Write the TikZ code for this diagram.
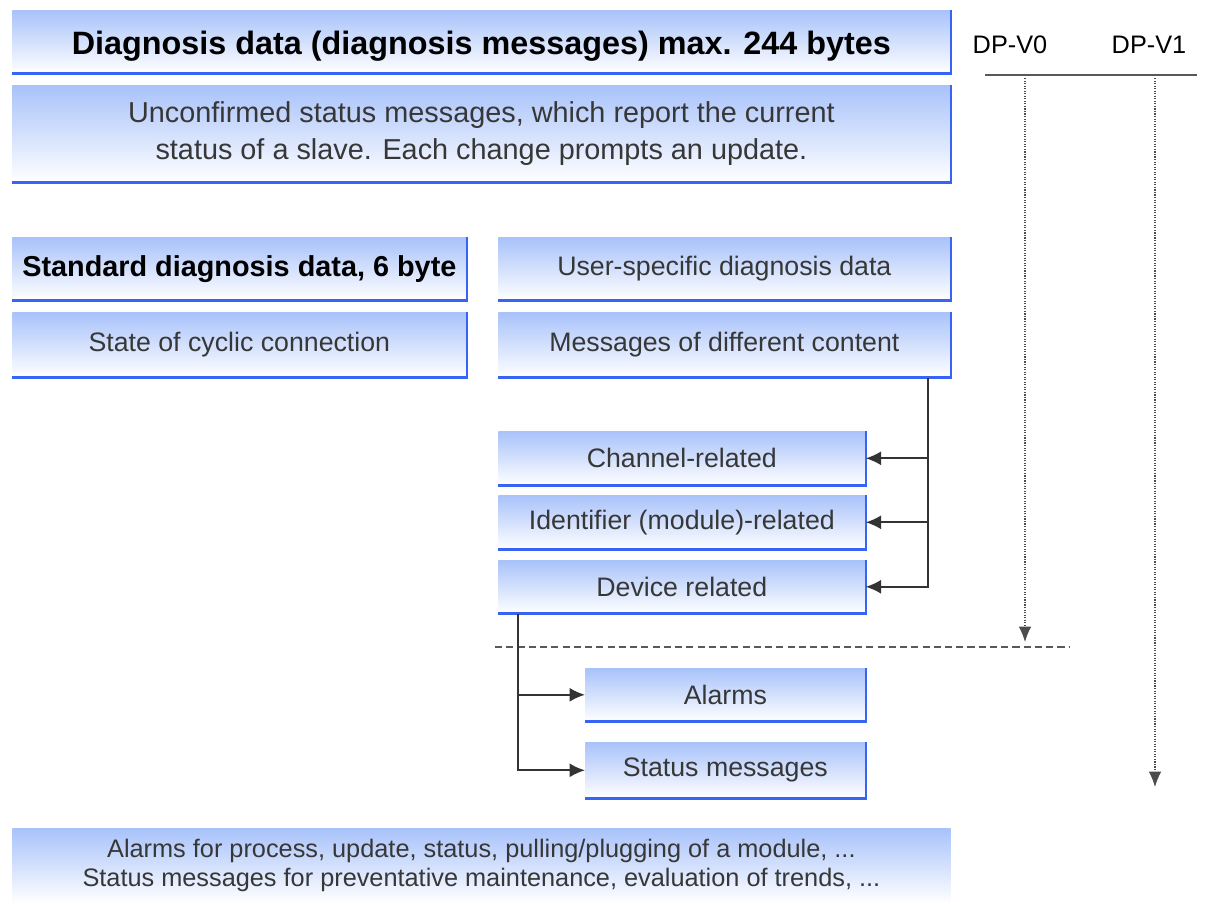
\documentclass[tikz,border=0pt]{standalone}
\usepackage{fontspec}
\setmainfont{Liberation Sans}
\usetikzlibrary{arrows.meta}
\definecolor{boxblue}{RGB}{168,194,250}
\definecolor{edgeblue}{RGB}{55,100,245}
\definecolor{txtgray}{RGB}{55,55,55}
\begin{document}
\begin{tikzpicture}[
        x=0.025cm, y=-0.025cm,
        box/.style={rectangle, anchor=north west, inner sep=0pt, align=center, top color=boxblue, bottom color=white, text=txtgray, font=\fontsize{19}{23}\selectfont},
        head/.style={font=\bfseries\fontsize{23}{27}\selectfont, text=black},
        edge/.style={draw=edgeblue, line width=1.6pt},
        arrow/.style={-{Latex[length=11pt, width=10pt]}, line width=1.4pt, draw=black!80},
        dotarrow/.style={-{Latex[length=11pt, width=9pt]}, densely dotted, line width=0.8pt, draw=black!70}
    ]
        \useasboundingbox (0,0) rectangle (1214,903);

        % Upper boxes
        \node[box, head, minimum width=23.45cm, minimum height=1.575cm, text height=22pt, text depth=4pt] (title) at (12,10) {Diagnosis data (diagnosis messages) max. 244 bytes};
        \node[box, minimum width=23.45cm, minimum height=2.425cm, font=\fontsize{20.5}{26}\selectfont] (info) at (12,85) {Unconfirmed status messages, which report the current\\status of a slave. Each change prompts an update.};

        % Standard part
        \node[box, head, minimum width=11.35cm, minimum height=1.575cm, font=\bfseries\fontsize{20.5}{24}\selectfont] (standard) at (12,237) {Standard diagnosis data, 6 byte};
        \node[box, minimum width=11.35cm, minimum height=1.625cm] (cyclic) at (12,312) {State of cyclic connection};

        % User-specific part
        \node[box, minimum width=11.3cm, minimum height=1.575cm] (user) at (498,237) {User-specific diagnosis data};
        \node[box, minimum width=11.3cm, minimum height=1.625cm] (content) at (498,312) {Messages of different content};
        \node[box, minimum width=9.175cm, minimum height=1.35cm] (channel) at (498,431) {Channel-related};
        \node[box, minimum width=9.175cm, minimum height=1.35cm] (ident) at (498,495) {Identifier (module)-related};
        \node[box, minimum width=9.175cm, minimum height=1.325cm] (device) at (498,560) {Device related};
        \node[box, minimum width=7cm, minimum height=1.325cm] (alarms) at (585,668) {Alarms};
        \node[box, minimum width=7cm, minimum height=1.4cm] (status) at (585,742) {Status messages};

        % Bottom note
        \node[box, minimum width=23.45cm, minimum height=1.875cm, font=\fontsize{18}{20.5}\selectfont] (note) at (12,828) {Alarms for process, update, status, pulling/plugging of a module, ...\\Status messages for preventative maintenance, evaluation of trends, ...};

        % Blue edges right and below
        \foreach \n in {title, info, standard, cyclic, user, content, channel, ident, device, alarms, status}
            \draw[edge] (\n.north east) -- (\n.south east) -- (\n.south west);

        % Versions
        \node[font=\fontsize{18}{22}\selectfont] (dpv0) at (1010,45) {DP-V0};
        \node[font=\fontsize{18}{22}\selectfont] (dpv1) at (1149,45) {DP-V1};
        \coordinate (ruleL) at (985,75);
        \coordinate (ruleR) at (1197,75);
        \draw[line width=1.6pt, black!65] (ruleL) -- (ruleR);
        \coordinate (v0top) at (1025,78);
        \coordinate (v0end) at (1025,642);
        \coordinate (v1top) at (1155,78);
        \coordinate (v1end) at (1155,787);
        \draw[dotarrow] (v0top) -- (v0end);
        \draw[dotarrow] (v1top) -- (v1end);

        % Separator
        \coordinate (sepL) at (495,647);
        \coordinate (sepR) at (1070,647);
        \draw[dashed, dash pattern=on 5pt off 3pt, line width=1.3pt, black!65] (sepL) -- (sepR);

        % Arrows
        \coordinate (trunkA) at (928,0);
        \coordinate (trunkB) at (518,0);
        \draw[arrow] (content.south -| trunkA) |- (device.east);
        \draw[arrow] (trunkA |- channel.east) -- (channel.east);
        \draw[arrow] (trunkA |- ident.east) -- (ident.east);
        \draw[arrow] (device.south -| trunkB) |- (status.west);
        \draw[arrow] (trunkB |- alarms.west) -- (alarms.west);

    \end{tikzpicture}
\end{document}
